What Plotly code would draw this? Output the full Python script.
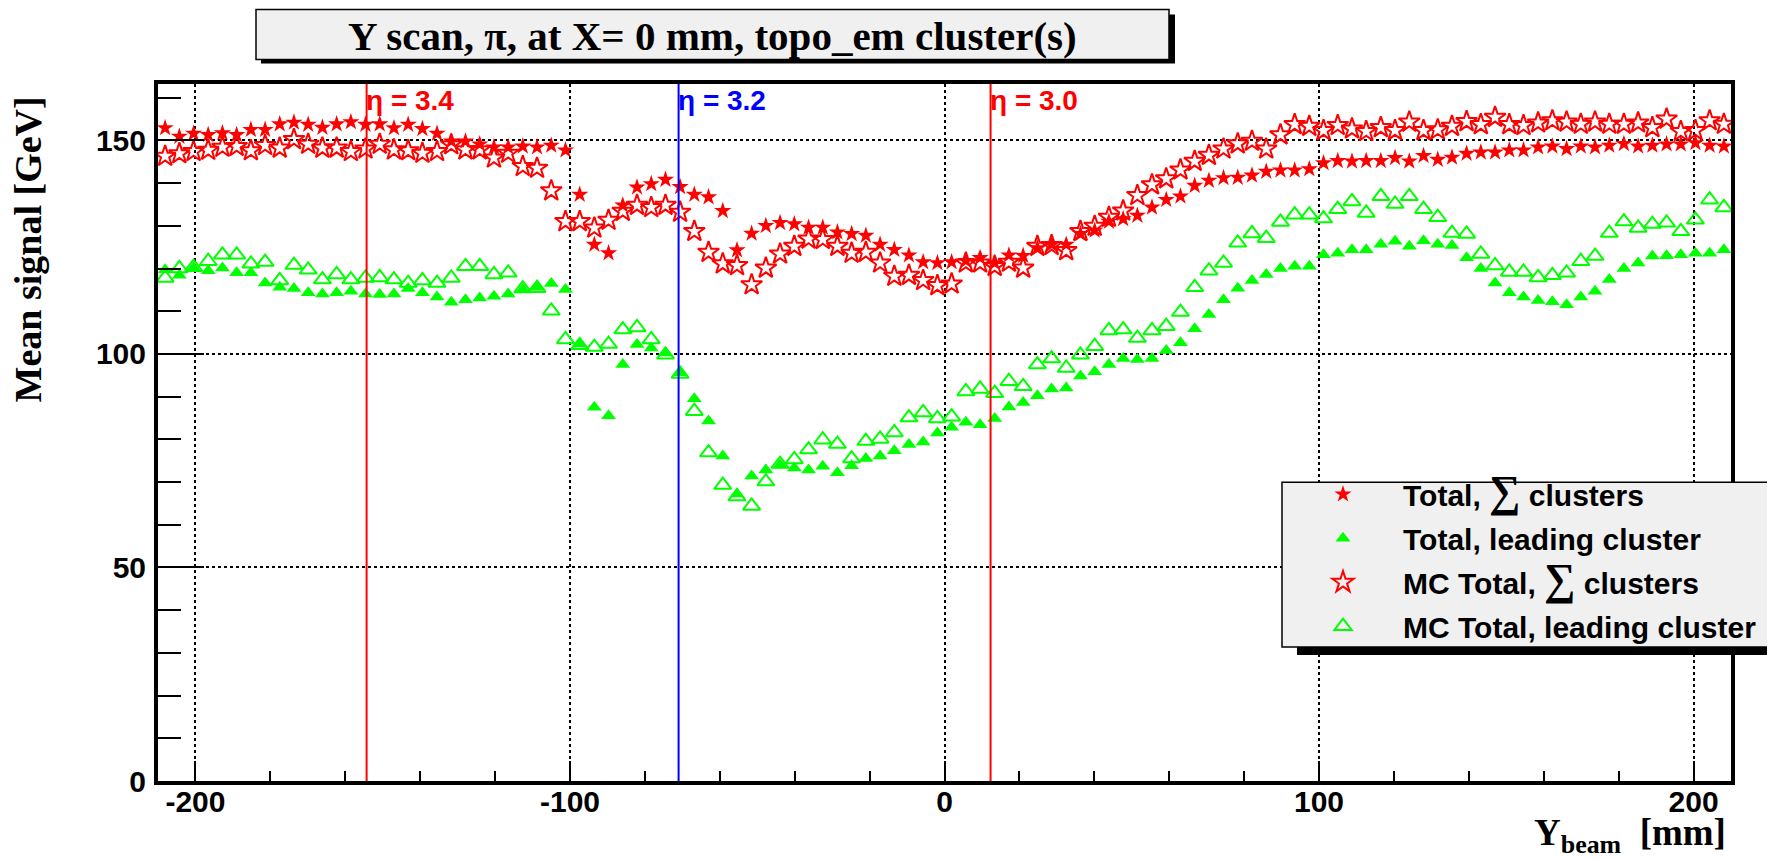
import plotly.graph_objects as go

# ---------------- data ----------------
y_beam = [-208.1, -204.3, -200.5, -196.6, -192.8, -189.0, -185.2, -181.4, -177.5, -173.7,
          -169.9, -166.1, -162.3, -158.5, -154.6, -150.8, -147.0, -143.2, -139.4, -135.5,
          -131.7, -127.9, -124.1, -120.3, -116.5, -112.6, -108.8, -105.0, -101.2, -97.4,
          -93.5, -89.7, -85.9, -82.1, -78.3, -74.5, -70.6, -66.8, -63.0, -59.2,
          -55.4, -51.5, -47.7, -43.9, -40.1, -36.3, -32.5, -28.6, -24.8, -21.0,
          -17.2, -13.4, -9.5, -5.7, -1.9, 1.9, 5.7, 9.5, 13.4, 17.2,
          21.0, 24.8, 28.6, 32.5, 36.3, 40.1, 43.9, 47.7, 51.5, 55.4,
          59.2, 63.0, 66.8, 70.6, 74.5, 78.3, 82.1, 85.9, 89.7, 93.5,
          97.4, 101.2, 105.0, 108.8, 112.6, 116.5, 120.3, 124.1, 127.9, 131.7,
          135.5, 139.4, 143.2, 147.0, 150.8, 154.6, 158.5, 162.3, 166.1, 169.9,
          173.7, 177.5, 181.4, 185.2, 189.0, 192.8, 196.6, 200.5, 204.3, 208.1]

data_sum = [152.9, 150.9, 151.6, 151.3, 151.7, 151.3, 152.5, 152.5, 153.8, 154.2,
            153.7, 153.0, 153.8, 154.3, 153.7, 153.8, 152.9, 153.7, 152.7, 151.6,
            149.8, 149.8, 149.1, 148.4, 148.4, 148.6, 148.4, 148.8, 147.7, 137.3,
            125.6, 123.6, 134.8, 139.0, 139.8, 140.8, 139.1, 137.3, 136.7, 133.5,
            124.3, 128.2, 130.0, 130.7, 130.4, 129.6, 129.6, 128.5, 128.1, 127.7,
            125.6, 124.4, 123.1, 121.5, 121.3, 121.5, 121.8, 122.5, 121.3, 123.1,
            123.0, 124.8, 125.6, 125.6, 128.1, 128.9, 131.0, 131.6, 132.4, 134.3,
            136.1, 136.9, 139.4, 140.6, 141.2, 141.3, 141.8, 142.7, 143.0, 143.0,
            143.3, 144.7, 145.2, 145.1, 145.2, 145.2, 145.9, 145.1, 146.4, 145.5,
            146.0, 146.9, 147.2, 147.2, 147.7, 147.7, 148.4, 148.6, 148.0, 148.6,
            148.4, 148.8, 149.2, 148.6, 148.8, 149.1, 149.1, 149.4, 148.8, 148.6]

data_lead = [119.7, 118.4, 120.1, 119.5, 120.1, 119.0, 119.0, 116.6, 115.6, 115.3,
             114.3, 114.0, 114.3, 114.7, 114.0, 113.9, 114.0, 115.3, 114.3, 113.3,
             112.1, 112.7, 113.1, 113.5, 114.0, 115.1, 115.6, 116.5, 115.1, 102.3,
             87.5, 85.5, 97.5, 102.2, 101.4, 100.2, 95.6, 89.5, 84.3, 76.1,
             67.2, 71.4, 72.8, 74.0, 73.3, 72.8, 73.7, 72.2, 73.8, 75.5,
             76.1, 77.3, 78.8, 79.4, 81.5, 82.8, 84.0, 83.4, 84.9, 87.6,
             88.6, 90.2, 91.8, 92.0, 94.8, 95.8, 97.5, 98.9, 98.7, 98.9,
             100.8, 102.6, 105.9, 109.2, 112.7, 115.4, 117.2, 118.6, 120.0, 120.5,
             120.5, 123.2, 123.6, 124.4, 124.4, 125.7, 126.4, 125.2, 126.5, 125.7,
             125.4, 122.5, 120.0, 116.6, 114.3, 113.3, 112.5, 112.2, 111.5, 113.3,
             114.7, 117.4, 120.0, 121.3, 122.9, 123.0, 123.2, 123.6, 123.6, 124.4]

mc_sum = [146.3, 146.9, 147.4, 147.7, 148.4, 148.6, 147.6, 148.8, 148.2, 150.2,
          149.1, 148.2, 148.2, 147.4, 148.0, 149.1, 147.8, 147.6, 147.0, 147.4,
          149.0, 147.8, 147.8, 145.9, 147.0, 143.9, 143.5, 138.2, 131.0, 131.0,
          129.5, 131.3, 133.4, 134.8, 134.3, 134.8, 133.2, 128.7, 123.8, 121.1,
          120.7, 116.2, 120.1, 123.4, 125.2, 126.9, 126.8, 125.2, 123.6, 123.8,
          121.3, 118.2, 118.4, 117.2, 116.0, 116.4, 121.3, 121.3, 120.5, 121.5,
          120.1, 125.2, 125.4, 124.2, 128.7, 129.9, 132.0, 133.5, 137.1, 139.6,
          141.0, 143.1, 145.1, 146.5, 148.0, 149.2, 149.8, 148.0, 151.3, 153.7,
          153.3, 152.3, 153.5, 152.7, 152.1, 153.0, 152.3, 154.3, 152.3, 152.5,
          153.3, 154.4, 153.7, 155.4, 153.7, 153.5, 154.1, 154.6, 154.3, 153.8,
          154.3, 153.8, 153.8, 154.1, 153.0, 155.0, 152.1, 152.3, 154.6, 153.8]

mc_lead = [117.8, 120.0, 120.3, 121.7, 123.2, 123.2, 121.1, 121.5, 117.2, 120.8,
           119.7, 117.4, 118.6, 117.4, 117.8, 117.9, 117.4, 116.6, 117.2, 116.6,
           117.8, 120.5, 120.5, 118.6, 119.0, 115.3, 115.4, 110.1, 103.4, 102.0,
           101.6, 102.3, 105.7, 106.2, 103.4, 99.8, 95.3, 86.6, 76.9, 69.3,
           66.6, 64.4, 70.1, 74.2, 75.3, 77.6, 79.9, 78.9, 75.5, 79.6,
           80.1, 81.6, 85.1, 86.3, 84.9, 85.3, 91.2, 91.8, 90.8, 93.6,
           92.4, 97.5, 98.9, 96.7, 99.8, 101.8, 105.5, 105.7, 103.7, 105.5,
           106.5, 109.8, 115.6, 119.5, 121.3, 126.0, 128.2, 127.1, 130.9, 132.6,
           132.6, 131.7, 133.9, 135.7, 133.0, 136.9, 135.1, 136.9, 133.9, 132.0,
           128.3, 128.1, 123.4, 120.7, 119.2, 119.2, 117.9, 118.4, 119.0, 121.7,
           122.9, 128.3, 131.0, 129.5, 130.4, 130.7, 128.7, 131.4, 136.1, 134.3]

eta_pos = [-154.3, -71.0, 12.3]
eta_text = ["η = 3.4", "η = 3.2", "η = 3.0"]
eta_color = ["#ff0000", "#0000ff", "#ff0000"]

x_ticks = [-200, -100, 0, 100, 200]
y_ticks = [0, 50, 100, 150]

series_names = ["Total, <span style='font-family:Liberation Serif;font-size:44px'>∑</span> clusters",
                "Total, leading cluster",
                "MC Total, <span style='font-family:Liberation Serif;font-size:44px'>∑</span> clusters",
                "MC Total, leading cluster"]

title_text = "Y scan, π, at X= 0 mm, topo_em cluster(s)"
x_title = "Y<sub>beam</sub>  [mm]"
y_title = "Mean signal [GeV]"

# ---------------- geometry (page pixels; the page body adds an 8px offset) ----------------
W, H = 1775, 859
OFF = 8
L, R, T, B = 158 - OFF, 1731 - OFF, 83.5 - OFF, 781 - OFF


def px(x):
    return (x - OFF - L) / (R - L)


def py(y):
    return (B - (y - OFF)) / (B - T)


RED, GREEN = "#ff0000", "#00ff00"
SANS = "Liberation Sans"
SERIF = "Liberation Serif"

fig = go.Figure()
fig.add_trace(go.Scatter(x=y_beam, y=data_sum, mode="markers", name=series_names[0],
                         legendgroup="a",
                         marker=dict(symbol="star", size=13, color=RED, line=dict(width=0))))
fig.add_trace(go.Scatter(x=y_beam, y=data_lead, mode="markers", name=series_names[1],
                         legendgroup="b",
                         marker=dict(symbol="triangle-up", size=13, color=GREEN, line=dict(width=0))))
fig.add_trace(go.Scatter(x=y_beam, y=mc_sum, mode="markers", name=series_names[2],
                         legendgroup="c",
                         marker=dict(symbol="star-open", size=16, color=RED, line=dict(width=2, color=RED))))
fig.add_trace(go.Scatter(x=y_beam, y=mc_lead, mode="markers", name=series_names[3],
                         legendgroup="d",
                         marker=dict(symbol="triangle-up-open", size=15, color=GREEN,
                                     line=dict(width=2, color=GREEN))))

shapes = []
annotations = []

for pos, txt, col in zip(eta_pos, eta_text, eta_color):
    shapes.append(dict(type="line", xref="x", yref="paper", x0=pos, x1=pos, y0=0, y1=1,
                       line=dict(color=col, width=2), layer="above"))
    annotations.append(dict(x=pos, y=159.4, xref="x", yref="y", text=txt, showarrow=False,
                            xanchor="left", yanchor="middle", xshift=-3,
                            font=dict(family=SANS, size=28, color=col, weight="bold")))

# title box with shadow
shapes.append(dict(type="rect", xref="paper", yref="paper",
                   x0=px(261), x1=px(1175), y0=py(14), y1=py(63),
                   fillcolor="black", line=dict(width=0), layer="above"))
shapes.append(dict(type="rect", xref="paper", yref="paper",
                   x0=px(256), x1=px(1169), y0=py(9), y1=py(59),
                   fillcolor="#f0f0f0", line=dict(color="black", width=1.5), layer="above"))
annotations.append(dict(x=px(712), y=py(35), xref="paper", yref="paper", text=title_text,
                        showarrow=False, xanchor="center", yanchor="middle",
                        font=dict(family=SERIF, size=41, color="black", weight="bold")))

# legend box with shadow
shapes.append(dict(type="rect", xref="paper", yref="paper",
                   x0=px(1297), x1=px(1773), y0=py(492), y1=py(655),
                   fillcolor="black", line=dict(width=0), layer="above"))
shapes.append(dict(type="rect", xref="paper", yref="paper",
                   x0=px(1282), x1=px(1768), y0=py(482), y1=py(647),
                   fillcolor="#f0f0f0", line=dict(color="black", width=1.5), layer="above"))

# axis titles
annotations.append(dict(x=px(28), y=py(249), xref="paper", yref="paper", text=y_title,
                        showarrow=False, textangle=-90, xanchor="center", yanchor="middle",
                        font=dict(family=SERIF, size=38, color="black", weight="bold")))
annotations.append(dict(x=px(1728), y=py(836), xref="paper", yref="paper", text=x_title,
                        showarrow=False, xanchor="right", yanchor="middle",
                        font=dict(family=SERIF, size=37, color="black", weight="bold")))

axis_common = dict(
    showline=True, linewidth=4, linecolor="black", mirror=True,
    ticks="inside", tickwidth=2, tickcolor="black",
    showgrid=True, gridcolor="black", gridwidth=2, griddash="dot",
    zeroline=False,
    tickfont=dict(family=SANS, size=30, color="black", weight="bold"),
)

fig.update_layout(
    width=W, height=H, autosize=False,
    margin=dict(l=L, r=W - R, t=T, b=H - B, pad=0),
    paper_bgcolor="white", plot_bgcolor="white",
    xaxis=dict(range=[-210, 210], tickvals=x_ticks, ticktext=[str(v) for v in x_ticks],
               ticklen=20, ticklabelstandoff=-9,
               minor=dict(tick0=0, dtick=20, ticks="inside", ticklen=10, tickwidth=2,
                          tickcolor="black", showgrid=False),
               **axis_common),
    yaxis=dict(range=[0, 163.2], tickvals=y_ticks, ticktext=[str(v) for v in y_ticks],
               ticklen=46, ticklabelstandoff=2,
               minor=dict(tick0=0, dtick=10, ticks="inside", ticklen=23, tickwidth=2,
                          tickcolor="black", showgrid=False),
               **axis_common),
    showlegend=True,
    legend=dict(x=px(1283), y=py(468), xanchor="left", yanchor="top",
                bgcolor="rgba(0,0,0,0)", borderwidth=0, itemwidth=110,
                traceorder="grouped", tracegroupgap=2,
                font=dict(family=SANS, size=30, color="black", weight="bold")),
    shapes=shapes,
    annotations=annotations,
)

fig.write_html("out.html")
